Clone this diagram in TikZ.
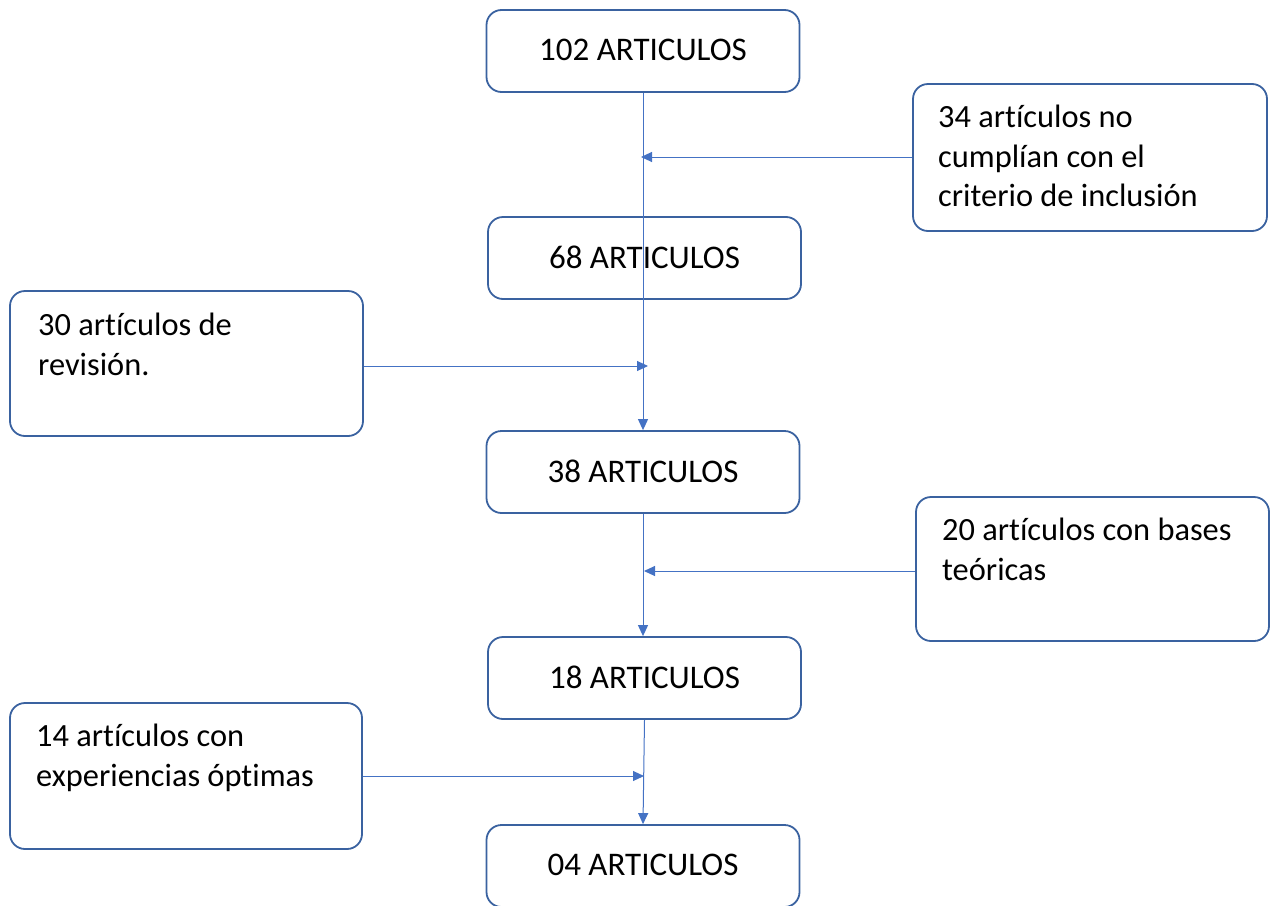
\documentclass[tikz,border=0pt]{standalone}
\usepackage{fontspec}
\setmainfont{Carlito}[Ligatures={NoCommon,NoContextual}]
\usetikzlibrary{arrows.meta}
\definecolor{boxline}{HTML}{3A62A0}
\definecolor{conn}{HTML}{4472C4}
\tikzset{
  box/.style={draw=boxline, line width=1.8pt, rounded corners=15pt, fill=white, inner sep=0pt},
  centerbox/.style={box, minimum width=313pt, minimum height=82pt, font=\fontsize{33}{40}\selectfont},
  sidetext/.style={anchor=north west, inner sep=0pt, align=left, font=\fontsize{32.4}{39.5}\selectfont},
  link/.style={draw=conn, line width=1pt, -{Triangle[length=11pt,width=10pt]}},
}
\begin{document}
\begin{tikzpicture}[x=1pt,y=-1pt]
\useasboundingbox (0,0) rectangle (1271,905);
% center boxes
\node[centerbox] (b102) at (643,51) {\raisebox{2pt}{102 ARTICULOS}};
\node[centerbox] (b68) at (644.5,258) {\raisebox{2pt}{68 ARTICULOS}};
\node[centerbox] (b38) at (643,472) {\raisebox{2pt}{38 ARTICULOS}};
\node[centerbox] (b18) at (644.5,678) {\raisebox{2pt}{18 ARTICULOS}};
\node[centerbox] (b04) at (643,866) {\raisebox{2pt}{04 ARTICULOS}};
% side boxes
\node[box, minimum width=354pt, minimum height=147pt] (s34) at (1090,157.5) {};
\node[box, minimum width=353pt, minimum height=145pt] (s30) at (186.5,363.5) {};
\node[box, minimum width=353pt, minimum height=144pt] (s20) at (1092.5,569) {};
\node[box, minimum width=352pt, minimum height=146pt] (s14) at (186,776) {};
\node[sidetext] (t34) at (938,105) {34 artículos no\\cumplían con el\\criterio de inclusión};
\node[sidetext] (t30) at (38,313) {30 artículos de\\revisión.};
\node[sidetext] (t20) at (942,518) {20 artículos con bases\\teóricas};
\node[sidetext] (t14) at (36,724) {14 artículos con\\experiencias óptimas};
% free ends
\coordinate (e34) at (641,157);
\coordinate (e30) at (648,366);
\coordinate (e20) at (644,571);
\coordinate (e14) at (644,776);
% connectors
\draw[link] (b102.south) -- (b38.north);
\draw[link] (b38.south) -- (b38.south |- b18.north);
\draw[link] (b18.south) -- (b04.north);
\draw[link] (s34.west |- e34) -- (e34);
\draw[link] (s30.east |- e30) -- (e30);
\draw[link] (s20.west |- e20) -- (e20);
\draw[link] (s14.east |- e14) -- (e14);
\end{tikzpicture}
\end{document}
